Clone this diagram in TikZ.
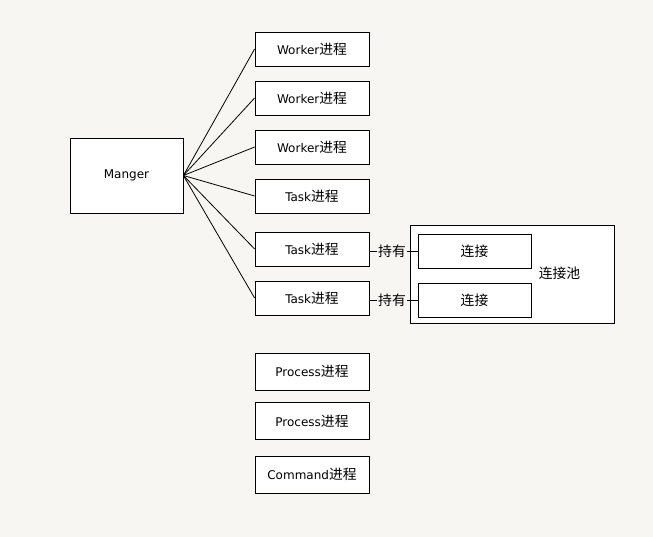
\documentclass[tikz,border=0pt]{standalone}
\usepackage{fontspec}
\setmainfont{DejaVu Sans}
\newfontfamily\cjk[Scale=1.15]{Noto Sans CJK SC}
\newcommand{\zh}[1]{{\cjk #1}}
\definecolor{paper}{RGB}{247,246,242}
\tikzset{
  proc/.style={draw,fill=white,minimum width=114pt,minimum height=34pt,inner sep=0pt},
  tall/.style={proc,minimum height=37pt},
}
\begin{document}
\begin{tikzpicture}[x=1pt,y=-1pt,line width=0.8pt,font=\fontsize{12}{14}\selectfont]
	\fill[paper] (0,0) rectangle (653,537);
	\useasboundingbox (0,0) rectangle (653,537);
	% manager and its processes
	\node[proc,minimum width=113pt,minimum height=75pt] (mgr) at (126.5,175.5) {Manger};
	\node[proc] (w1) at (312,49) {Worker\zh{进程}};
	\node[proc] (w2) at (312,98) {Worker\zh{进程}};
	\node[proc] (w3) at (312,147) {Worker\zh{进程}};
	\node[proc] (t1) at (312,196) {Task\zh{进程}};
	\node[proc] (t2) at (312,249) {Task\zh{进程}};
	\node[proc] (t3) at (312,298) {Task\zh{进程}};
	\node[tall] (p1) at (312,371.5) {Process\zh{进程}};
	\node[tall] (p2) at (312,421) {Process\zh{进程}};
	\node[tall] (cmd) at (312,474.5) {Command\zh{进程}};
	% connection pool
	\node[draw,fill=white,minimum width=204pt,minimum height=98pt] (pool) at (512,274) {};
	\node[proc,minimum width=113pt] (c1) at (474.5,251) {\zh{连接}};
	\node[proc,minimum width=113pt] (c2) at (474.5,300) {\zh{连接}};
	\node (poolname) at (559.5,273) {\zh{连接池}};
	\node[inner sep=1pt] (h1) at (392,251) {\zh{持有}};
	\node[inner sep=1pt] (h2) at (392,300) {\zh{持有}};
	\foreach \n in {w1,w2,w3,t1,t2,t3}
		\draw (mgr.east) -- (\n.west);
	\draw (t2.east |- h1) -- (h1.west) (h1.east) -- (c1.west);
	\draw (t3.east |- h2) -- (h2.west) (h2.east) -- (c2.west);
\end{tikzpicture}
\end{document}
